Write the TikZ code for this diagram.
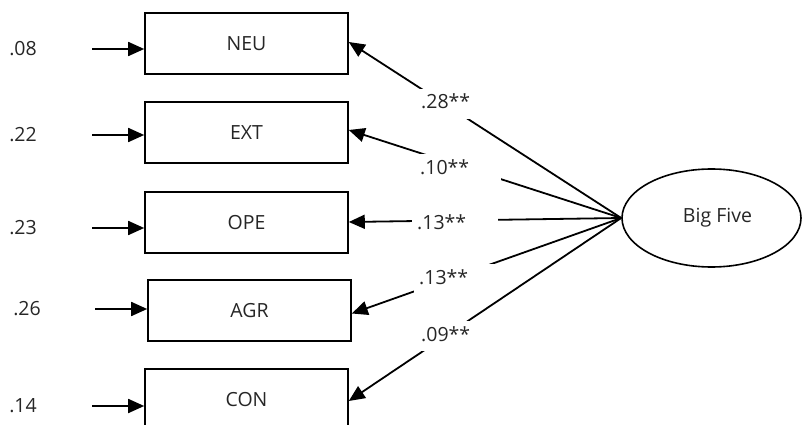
\documentclass[tikz,border=0pt]{standalone}
\usepackage{fontspec}
\setmainfont{Open Sans}
\usetikzlibrary{arrows.meta,shapes.geometric}
\begin{document}
\begin{tikzpicture}[x=1pt,y=-1pt,
  font=\fontsize{19.5}{22}\selectfont,
  every node/.style={text=black!85},
  ind/.style={draw=black,line width=1.6pt,minimum width=203pt,minimum height=61pt,inner sep=0pt},
  latent/.style={draw=black,line width=1.6pt,ellipse,minimum width=179pt,minimum height=98pt,inner sep=0pt},
  arr/.style={line width=1.8pt,-{Triangle[length=16pt,width=14pt]}},
  coef/.style={fill=white,text width=76pt,align=left,inner xsep=5pt,inner ysep=6pt,text height=14pt,text depth=4pt,anchor=west},
  err/.style={inner sep=0pt}
]
\useasboundingbox (0,0) rectangle (803,425);
\begin{scope}
\clip (0,0) rectangle (803,425);

% observed indicators
\node[ind] (neu) at (246.5,43.5) {NEU};
\node[ind] (ext) at (246.5,132.5) {EXT};
\node[ind] (ope) at (246.5,222.5) {OPE};
\node[ind] (agr) at (249.5,310.5) {AGR};
\node[ind] (con) at (246.5,399.5) {CON};

% latent factor
\node[latent] (big) at (711.5,218) {\hspace{12pt}Big Five};

% error terms
\node[err] (e1) at (23,49) {.08};
\node[err] (e2) at (23,135) {.22};
\node[err] (e3) at (23,228) {.23};
\node[err] (e4) at (27,309) {.26};
\node[err] (e5) at (23,406) {.14};
\coordinate (s1) at (92,49);
\coordinate (s2) at (92,135);
\coordinate (s3) at (92,228);
\coordinate (s4) at (95,309);
\coordinate (s5) at (92,406);
\draw[arr] (s1) -- (s1 -| neu.west);
\draw[arr] (s2) -- (s2 -| ext.west);
\draw[arr] (s3) -- (s3 -| ope.west);
\draw[arr] (s4) -- (s4 -| agr.west);
\draw[arr] (s5) -- (s5 -| con.west);

% factor loadings
\draw[arr] (big.west) -- ([yshift=1.5pt]neu.east);
\draw[arr] (big.west) -- ([yshift=2.5pt]ext.east);
\draw[arr] (big.west) -- ([yshift=0.5pt]ope.east);
\draw[arr] (big.west) -- ([yshift=-3pt]agr.east);
\draw[arr] (big.west) -- ([yshift=-1.5pt]con.east);

\node[coef] (c1) at (416,104) {.28**};
\node[coef] (c2) at (415,169) {.10**};
\node[coef] (c3) at (412,224) {.13**};
\node[coef] (c4) at (414,279) {.13**};
\node[coef] (c5) at (416,336) {.09**};
\end{scope}
\end{tikzpicture}
\end{document}
